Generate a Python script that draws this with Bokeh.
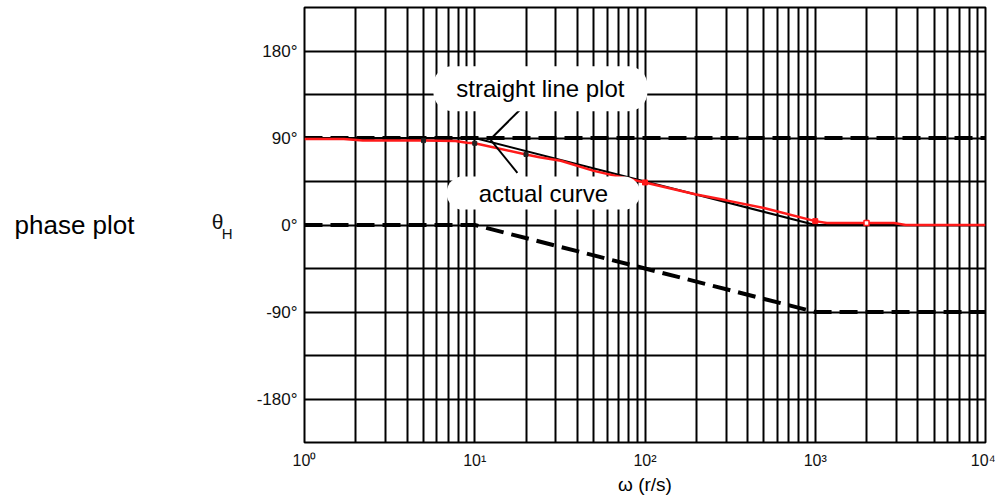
from bokeh.plotting import figure
from bokeh.models import Range1d, FixedTicker, Label, LinearAxis
from bokeh.embed import file_html
from bokeh.resources import INLINE

# ---- data ----
decades = [1, 10, 100, 1000, 10000]
decade_labels = ["10⁰", "10¹", "10²", "10³", "10⁴"]
grid_mult = [1, 2, 3, 4, 5, 6, 7, 8, 9]
phase_ticks = [-180, -90, 0, 90, 180]
phase_labels = ["-180°", "-90°", "0°", "90°", "180°"]
phase_grid = [-180, -135, -90, -45, 0, 45, 90, 135, 180]

# straight-line (asymptotic) plots
w_asym90 = [1, 10000]
ph_asym90 = [90, 90]
w_zero = [1, 10, 1000, 10000]
ph_zero = [0, 0, -90, -90]
w_straight = [1, 10, 1000, 10000]
ph_straight = [90, 90, 0, 0]

# actual curve (red)
w_actual = [1, 1.7, 2.2, 5, 7.7, 9, 10, 20, 24, 32, 50, 100, 200, 300, 500, 1000, 1170, 2000, 2900, 3400, 10000]
ph_actual = [89, 89, 87.3, 87.3, 87, 85, 84.5, 73, 70, 66.5, 56, 44, 31.5, 25.5, 17.5, 4, 2, 2, 2, 0, 0]

# small point marks on the curve
w_marks_dark = [5, 10, 20]
ph_marks_dark = [87.3, 84.5, 73]
w_marks_red = [100, 1000]
ph_marks_red = [44, 4]
w_marks_open = [2000]
ph_marks_open = [2]

# callout pointers
w_ptr1 = [12.4, 19.9]
ph_ptr1 = [89, 125]
w_ptr2 = [12.4, 17.8]
ph_ptr2 = [88, 54]

# side texts
axis_title = "ω (r/s)"
side_title = "phase plot"
symbol_main = "θ"
symbol_sub = "H"

FONT = "Liberation Sans"

p = figure(width=995, height=498, x_axis_type="log",
           x_range=Range1d(1, 10000), y_range=Range1d(-225, 225),
           output_backend="svg", toolbar_location=None,
           min_border_left=304, min_border_right=10,
           min_border_top=7, min_border_bottom=56)

p.background_fill_color = "white"
p.border_fill_color = "white"
p.outline_line_color = "black"
p.outline_line_width = 2
p.outline_line_alpha = 1

# grids
grid_x = [d * m for d in decades[:-1] for m in grid_mult] + [decades[-1]]
p.xgrid.ticker = FixedTicker(ticks=grid_x)
p.xgrid.grid_line_color = "black"
p.xgrid.grid_line_width = 2
p.xgrid.grid_line_alpha = 1
p.xgrid.minor_grid_line_color = None
p.ygrid.ticker = FixedTicker(ticks=phase_grid)
p.ygrid.grid_line_color = "black"
p.ygrid.grid_line_width = 2
p.ygrid.grid_line_alpha = 1


def style_axis(ax, size, standoff):
    ax.axis_line_color = None
    ax.major_tick_line_color = None
    ax.minor_tick_line_color = None
    ax.major_tick_out = 0
    ax.major_tick_in = 0
    ax.minor_tick_out = 0
    ax.minor_tick_in = 0
    ax.major_label_text_font = FONT
    ax.major_label_text_color = "#111111"
    ax.major_label_text_font_size = size
    ax.major_label_standoff = standoff


# axes
p.xaxis.ticker = FixedTicker(ticks=decades)
p.xaxis.major_label_overrides = {d: l for d, l in zip(decades, decade_labels)}
style_axis(p.xaxis[0], "16px", 9)
p.xaxis.axis_label = axis_title
p.xaxis.axis_label_text_font = FONT
p.xaxis.axis_label_text_font_style = "normal"
p.xaxis.axis_label_text_font_size = "19px"
p.xaxis.axis_label_text_color = "black"
p.xaxis.axis_label_standoff = 2

p.yaxis.ticker = FixedTicker(ticks=phase_ticks)
p.yaxis.major_label_overrides = {t: l for t, l in zip(phase_ticks, phase_labels)}
style_axis(p.yaxis[0], "17px", 7)

# subscript "H" (closest), then the symbol, then the side title
sub_axis = LinearAxis(ticker=FixedTicker(ticks=[-9]),
                      major_label_overrides={-9: symbol_sub})
style_axis(sub_axis, "15px", 21)
p.add_layout(sub_axis, "left")

sym_axis = LinearAxis(ticker=FixedTicker(ticks=[4]),
                      major_label_overrides={4: symbol_main})
style_axis(sym_axis, "21px", -5)
p.add_layout(sym_axis, "left")

title_axis = LinearAxis(ticker=FixedTicker(ticks=[0]),
                        major_label_overrides={0: side_title})
style_axis(title_axis, "26px", 74)
title_axis.major_label_text_color = "black"
p.add_layout(title_axis, "left")

# curves
p.line(w_asym90, ph_asym90, line_color="black", line_width=4, line_dash="18 8")
p.line(w_zero, ph_zero, line_color="black", line_width=4, line_dash="18 8")
p.line(w_straight, ph_straight, line_color="black", line_width=2)
p.line(w_actual, ph_actual, line_color="#ff1a1a", line_width=2.5)
p.scatter(w_marks_dark, ph_marks_dark, marker="square", size=4, color="#222222")
p.scatter(w_marks_red, ph_marks_red, marker="square", size=5, color="#ff1a1a")
p.scatter(w_marks_open, ph_marks_open, marker="square", size=5, line_color="#ff1a1a",
          fill_color="white", line_width=1.5)

# pointers
p.line(w_ptr1, ph_ptr1, line_color="black", line_width=2)
p.line(w_ptr2, ph_ptr2, line_color="black", line_width=2)

# callouts
p.add_layout(Label(x=24.3, y=141, text="straight line plot", text_align="center",
                   text_baseline="middle", text_font=FONT, text_font_size="24px",
                   text_color="black", background_fill_color="white",
                   padding=(23, 9), border_radius=19))
p.add_layout(Label(x=25.3, y=33, text="actual curve", text_align="center",
                   text_baseline="middle", text_font=FONT, text_font_size="24px",
                   text_color="black", background_fill_color="white",
                   padding=(32, 3), border_radius=16))

open("out.html", "w").write(file_html(p, INLINE))
